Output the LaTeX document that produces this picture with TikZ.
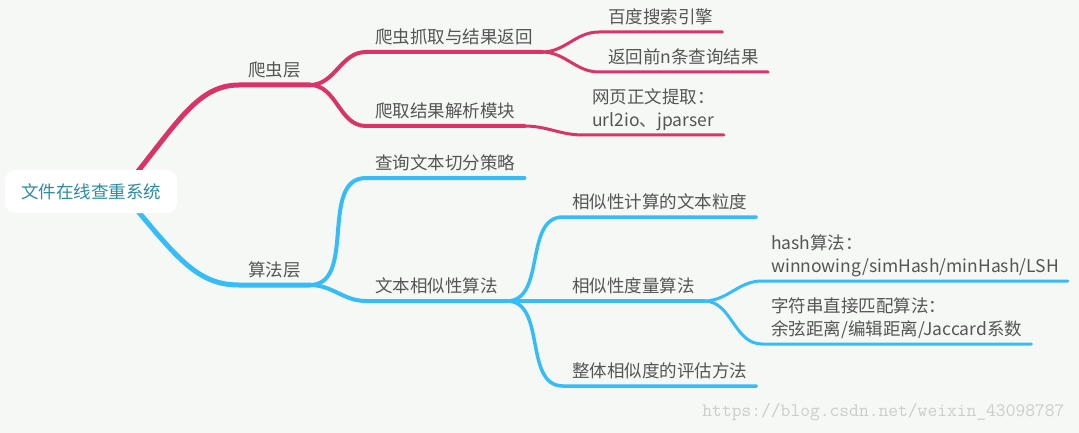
\documentclass[tikz,border=0pt]{standalone}
\usepackage{fontspec}
\setmainfont{Noto Sans CJK SC}
\usepackage{xcolor}
\usetikzlibrary{positioning, backgrounds}
\definecolor{mapbg}{HTML}{F5F8F5}
\definecolor{crawlred}{HTML}{D93468}
\definecolor{algoblue}{HTML}{36BDF7}
\definecolor{mapgray}{HTML}{555555}
\definecolor{rootteal}{HTML}{2A8DA1}
\newcommand\mapfont{\fontsize{17.5}{23}\selectfont}
\tikzset{
  rootbox/.style={
    fill=white, rounded corners=10pt, text=rootteal, font=\mapfont,
    minimum width=172pt, minimum height=43pt
  },
  topic/.style={
    anchor=south west, inner xsep=9pt, inner ysep=4pt, text depth=4pt,
    align=left, text=mapgray, font=\mapfont
  },
  redlink/.style={draw=crawlred, line cap=round},
  bluelink/.style={draw=algoblue, line cap=round},
  watermark/.style={
    anchor=east, text=gray!40, font=\ttfamily\fontsize{19}{20}\selectfont
  },
}

\begin{document}
\begin{tikzpicture}[x=1pt, y=-1pt]
  \useasboundingbox (0,0) rectangle (1079,433);

  % Root
  \node[rootbox] (root) at (91,191.5) {文件在线查重系统};

  % Crawler layer
  \node[topic] (crawl) at (239,85) {爬虫层};
  \node[topic] (fetch) at (366,52) {爬虫抓取与结果返回};
  \node[topic] (parse) at (366,126) {爬取结果解析模块};
  \node[topic] (baidu) at (599,32) {百度搜索引擎};
  \node[topic] (topn) at (599,72) {返回前n条查询结果};
  \node[topic] (webtext) at (583,135) {网页正文提取：\\url2io、jparser};

  % Algorithm layer
  \node[topic] (algo) at (239,285) {算法层};
  \node[topic] (split) at (366,178) {查询文本切分策略};
  \node[topic] (simalg) at (366,301) {文本相似性算法};
  \node[topic] (grain) at (563,217) {相似性计算的文本粒度};
  \node[topic] (measure) at (563,301) {相似性度量算法};
  \node[topic] (overall) at (563,386) {整体相似度的评估方法};
  \node[topic] (hashalg) at (762,281) {hash算法：\\winnowing/simHash/minHash/LSH};
  \node[topic] (strmatch) at (762,344) {字符串直接匹配算法：\\余弦距离/编辑距离/Jaccard系数};

  % Watermark
  \node[watermark] (wm) at (1068,412) {https://blog.csdn.net/weixin\_43098787};

  \begin{scope}[on background layer]
    \fill[mapbg] (0,0) rectangle (1079,433);

    % Red branches
    \draw[redlink, line width=5pt] ([shift={(28,3)}]root.center)
      .. controls (175,128) and (195,85) .. (crawl.south west) -- (crawl.south east);
    \draw[redlink, line width=4pt] (crawl.south east) to[out=0, in=180]
      (fetch.south west) -- (fetch.south east);
    \draw[redlink, line width=4pt] (crawl.south east) to[out=0, in=180]
      (parse.south west) -- (parse.south east);
    \draw[redlink, line width=3pt] (fetch.south east) to[out=0, in=180]
      (baidu.south west) -- (baidu.south east);
    \draw[redlink, line width=3pt] (fetch.south east) to[out=0, in=180]
      (topn.south west) -- (topn.south east);
    \draw[redlink, line width=3pt] (parse.south east) to[out=0, in=180]
      (webtext.south west) -- (webtext.south east);

    % Blue branches
    \draw[bluelink, line width=5pt] ([shift={(28,-3)}]root.center)
      .. controls (175,255) and (195,285) .. (algo.south west) -- (algo.south east);
    \draw[bluelink, line width=4pt] (algo.south east) to[out=0, in=180]
      (split.south west) -- (split.south east);
    \draw[bluelink, line width=4pt] (algo.south east) to[out=0, in=180]
      (simalg.south west) -- (simalg.south east);
    \draw[bluelink, line width=3.5pt] (simalg.south east) to[out=0, in=180]
      (grain.south west) -- (grain.south east);
    \draw[bluelink, line width=3.5pt] (simalg.south east) --
      (measure.south west) -- (measure.south east);
    \draw[bluelink, line width=3.5pt] (simalg.south east) to[out=0, in=180]
      (overall.south west) -- (overall.south east);
    \draw[bluelink, line width=3pt] (measure.south east) to[out=0, in=180]
      (hashalg.south west) -- (hashalg.south east);
    \draw[bluelink, line width=3pt] (measure.south east) to[out=0, in=180]
      (strmatch.south west) -- (strmatch.south east);
  \end{scope}
\end{tikzpicture}
\end{document}
